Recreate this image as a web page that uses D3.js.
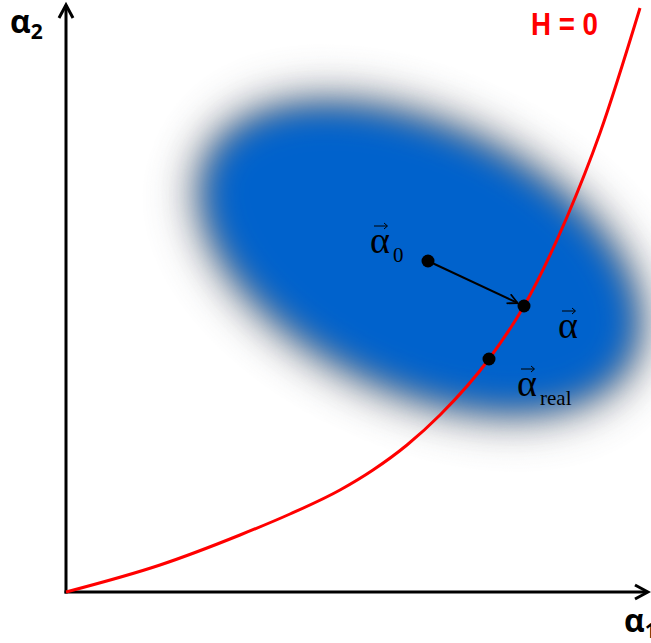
<!DOCTYPE html>
<html>
<head>
<meta charset="utf-8">
<script src="https://cdn.jsdelivr.net/npm/d3@7"></script>
<style>
  html, body { margin: 0; padding: 0; background: #fff; }
  svg { display: block; }
</style>
</head>
<body>
<svg id="chart" width="651" height="643"></svg>
<script>
// Constraint curve H = 0 in (alpha1, alpha2) space
const curveA1 = [0, 94, 174, 224, 274, 307, 341, 374, 423, 458, 501, 534, 574];
const curveA2 = [0, 27, 57, 78, 102, 122, 147, 177, 233, 286, 375, 459, 584];

// Confidence region (ellipse): centre, semi-axes, tilt in degrees
const regionCenter = [354, 334];
const regionRadii = [236, 134];
const regionTilt = [25];

// Marked points and their labels
const pointNames = ["alpha0", "alpha", "alphaReal"];
const pointA1 = [362, 458, 423];
const pointA2 = [331, 286, 233];
const pointSubs = ["0", "", "real"];

// Axis titles
const axisNames = ["α", "α"];
const axisSubs = ["1", "2"];
const curveLabel = ["H = 0"];

const svg = d3.select("#chart");
const origin = { x: 66, y: 592 };
const x = d3.scaleLinear().domain([0, 582]).range([origin.x, 648]);
const y = d3.scaleLinear().domain([0, 582]).range([origin.y, 10]);

const defs = svg.append("defs");
function blurFilter(id, sd) {
  defs.append("filter").attr("id", id)
    .attr("x", "-60%").attr("y", "-60%").attr("width", "220%").attr("height", "220%")
    .append("feGaussianBlur").attr("stdDeviation", sd);
}
blurFilter("blurGrey", 22);
blurFilter("blurBlue", 16);

// Soft ellipse: grey halo below a blurred blue core
const cx = x(regionCenter[0]), cy = y(regionCenter[1]);
const rx = x(regionRadii[0]) - x(0), ry = y(0) - y(regionRadii[1]);
const region = svg.append("g")
  .attr("transform", `translate(${cx},${cy}) rotate(${regionTilt[0]})`);
region.append("ellipse")
  .attr("rx", rx + 8).attr("ry", ry + 8)
  .attr("fill", "#6a7078").attr("opacity", 0.85)
  .attr("filter", "url(#blurGrey)");
region.append("ellipse")
  .attr("rx", rx - 10).attr("ry", ry - 10)
  .attr("fill", "#0562cc")
  .attr("filter", "url(#blurBlue)");

// Axes with open arrowheads
const axes = svg.append("g").attr("stroke", "#000").attr("stroke-width", 3)
  .attr("fill", "none").attr("stroke-linecap", "butt");
axes.append("line").attr("x1", origin.x).attr("y1", origin.y + 1.5)
  .attr("x2", origin.x).attr("y2", 5);
axes.append("line").attr("x1", origin.x - 1.5).attr("y1", origin.y)
  .attr("x2", 647).attr("y2", origin.y);
axes.append("path").attr("stroke-linejoin", "miter")
  .attr("d", `M${origin.x - 7},18 L${origin.x},5 L${origin.x + 7},18`);
axes.append("path").attr("stroke-linejoin", "miter")
  .attr("d", `M635,${origin.y - 7} L648,${origin.y} L635,${origin.y + 7}`);

// Constraint curve
const line = d3.line()
  .x(d => x(d[0])).y(d => y(d[1]))
  .curve(d3.curveMonotoneX);
svg.append("path")
  .datum(curveA1.map((a, i) => [a, curveA2[i]]))
  .attr("d", line)
  .attr("fill", "none").attr("stroke", "#ff0000").attr("stroke-width", 3);

svg.append("text").text(curveLabel[0])
  .attr("x", 531).attr("y", 35)
  .attr("font-family", "Liberation Sans, Arial, sans-serif")
  .attr("font-weight", "bold").attr("font-size", 31)
  .attr("textLength", 67).attr("lengthAdjust", "spacingAndGlyphs")
  .attr("fill", "#ff0000");

// Step arrow from alpha0 to alpha
defs.append("marker").attr("id", "openHead")
  .attr("viewBox", "0 0 12 12").attr("refX", 11).attr("refY", 6)
  .attr("markerWidth", 12).attr("markerHeight", 12)
  .attr("markerUnits", "userSpaceOnUse").attr("orient", "auto")
  .append("path").attr("d", "M1,1 L11,6 L1,11")
  .attr("fill", "none").attr("stroke", "#000").attr("stroke-width", 1.8);
{
  const x0 = x(pointA1[0]), y0 = y(pointA2[0]);
  const x1 = x(pointA1[1]), y1 = y(pointA2[1]);
  const ang = Math.atan2(y1 - y0, x1 - x0);
  svg.append("line")
    .attr("x1", x0).attr("y1", y0)
    .attr("x2", x1 - 7 * Math.cos(ang)).attr("y2", y1 - 7 * Math.sin(ang))
    .attr("stroke", "#000").attr("stroke-width", 2)
    .attr("marker-end", "url(#openHead)");
}

// Points
svg.append("g").selectAll("circle")
  .data(pointNames.map((n, i) => ({ n, a1: pointA1[i], a2: pointA2[i] })))
  .join("circle")
  .attr("cx", d => x(d.a1)).attr("cy", d => y(d.a2)).attr("r", 6.5)
  .attr("fill", "#000");

// Vector labels (serif alpha with an arrow accent and subscript)
const labelOffsets = [[-58, -8], [34, 32], [28, 37]];
function vecLabel(px, py, sub) {
  const g = svg.append("g").attr("transform", `translate(${px},${py})`);
  g.append("text").text("α").attr("x", 0).attr("y", 0)
    .attr("font-family", "Liberation Serif, Times New Roman, serif")
    .attr("font-size", 38).attr("fill", "#000");
  // arrow accent
  g.append("path").attr("d", "M4,-27 L17,-27 M14,-30 L17.5,-27 L14,-24")
    .attr("fill", "none").attr("stroke", "#000").attr("stroke-width", 1);
  if (sub) {
    g.append("text").text(sub).attr("x", 23).attr("y", 9)
      .attr("font-family", "Liberation Serif, Times New Roman, serif")
      .attr("font-size", 21).attr("fill", "#000");
  }
}
pointNames.forEach((n, i) => {
  vecLabel(x(pointA1[i]) + labelOffsets[i][0], y(pointA2[i]) + labelOffsets[i][1], pointSubs[i]);
});

// Axis titles
function axisTitle(px, py, main, sub) {
  const t = svg.append("text").attr("x", px).attr("y", py)
    .attr("font-family", "Open Sans, Liberation Sans, sans-serif")
    .attr("font-weight", "bold").attr("font-size", 32).attr("fill", "#000");
  t.append("tspan").text(main);
  t.append("tspan").text(sub).attr("font-size", 21).attr("dy", 6);
}
axisTitle(10, 33, axisNames[1], axisSubs[1]);
axisTitle(624, 632, axisNames[0], axisSubs[0]);
</script>
</body>
</html>
